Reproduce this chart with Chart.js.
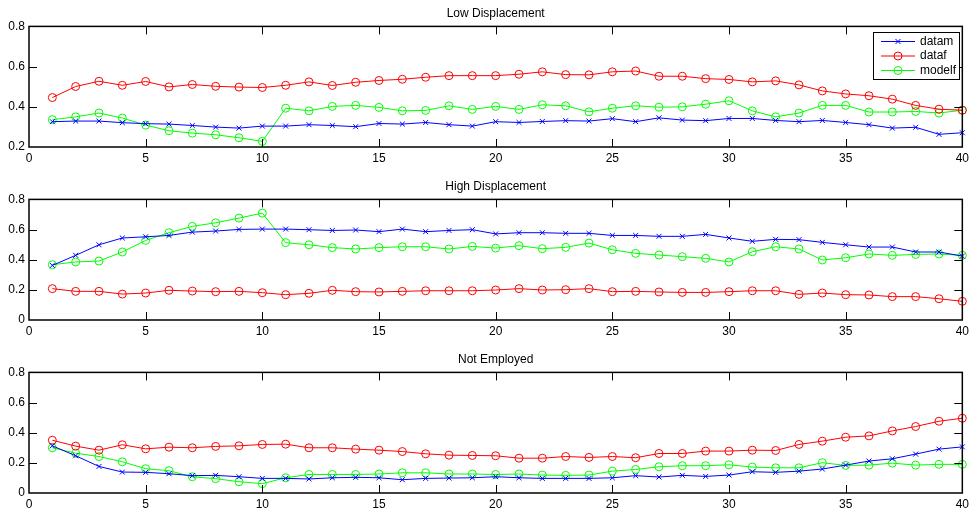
<!DOCTYPE html>
<html>
<head>
<meta charset="utf-8">
<title>Displacement</title>
<script src="https://cdn.jsdelivr.net/npm/chart.js@4.4.1/dist/chart.umd.min.js"></script>
<style>
    body { margin: 0; background: #fff; }
    .panel { position: absolute; left: 0; }
</style>
</head>
<body>
<canvas id="grafLow" class="panel" width="973" height="173" style="top:0px"></canvas>
<canvas id="grafHigh" class="panel" width="973" height="173" style="top:173px"></canvas>
<canvas id="grafNot" class="panel" width="973" height="169" style="top:346px"></canvas>
<script>
// Eje X: periodos 1..40
const periodos = [1, 2, 3, 4, 5, 6, 7, 8, 9, 10, 11, 12, 13, 14, 15, 16, 17, 18, 19, 20,
    21, 22, 23, 24, 25, 26, 27, 28, 29, 30, 31, 32, 33, 34, 35, 36, 37, 38, 39, 40];
const ticksX = [0, 5, 10, 15, 20, 25, 30, 35, 40];
const ticksYLow = [0.2, 0.4, 0.6, 0.8];
const ticksY = [0, 0.2, 0.4, 0.6, 0.8];

const nombres = ['datam', 'dataf', 'modelf'];
const titulos = ['Low Displacement', 'High Displacement', 'Not Employed'];

// Low Displacement
const lowDatam = [0.326, 0.329, 0.329, 0.321, 0.316, 0.314, 0.307, 0.299, 0.294, 0.304, 0.304, 0.311, 0.307, 0.301, 0.317, 0.314, 0.322, 0.311, 0.304, 0.326,
    0.322, 0.327, 0.331, 0.329, 0.341, 0.326, 0.345, 0.334, 0.331, 0.342, 0.342, 0.332, 0.326, 0.332, 0.322, 0.311, 0.294, 0.298, 0.263, 0.271];
const lowDataf = [0.446, 0.501, 0.527, 0.507, 0.526, 0.499, 0.511, 0.502, 0.498, 0.496, 0.507, 0.524, 0.506, 0.522, 0.531, 0.537, 0.547, 0.555, 0.555, 0.555,
    0.562, 0.574, 0.560, 0.559, 0.574, 0.578, 0.552, 0.552, 0.540, 0.536, 0.524, 0.529, 0.509, 0.479, 0.464, 0.455, 0.438, 0.407, 0.388, 0.383];
const lowModelf = [0.336, 0.350, 0.369, 0.344, 0.309, 0.281, 0.269, 0.261, 0.246, 0.228, 0.393, 0.380, 0.402, 0.407, 0.397, 0.380, 0.382, 0.405, 0.387, 0.402,
    0.387, 0.410, 0.405, 0.375, 0.393, 0.405, 0.398, 0.400, 0.413, 0.430, 0.380, 0.350, 0.369, 0.407, 0.407, 0.374, 0.374, 0.377, 0.369, 0.383];

// High Displacement
const highDatam = [0.362, 0.429, 0.499, 0.544, 0.552, 0.561, 0.583, 0.590, 0.601, 0.603, 0.603, 0.599, 0.594, 0.597, 0.586, 0.603, 0.586, 0.594, 0.599, 0.571,
    0.579, 0.579, 0.575, 0.575, 0.561, 0.561, 0.555, 0.555, 0.568, 0.544, 0.522, 0.535, 0.533, 0.515, 0.499, 0.484, 0.484, 0.451, 0.451, 0.424];
const highDataf = [0.208, 0.190, 0.190, 0.172, 0.179, 0.197, 0.192, 0.188, 0.190, 0.181, 0.168, 0.177, 0.197, 0.188, 0.186, 0.190, 0.194, 0.194, 0.194, 0.199,
    0.208, 0.199, 0.201, 0.208, 0.188, 0.190, 0.186, 0.183, 0.183, 0.188, 0.194, 0.194, 0.170, 0.179, 0.168, 0.166, 0.155, 0.155, 0.141, 0.124];
const highModelf = [0.367, 0.385, 0.391, 0.451, 0.528, 0.579, 0.621, 0.645, 0.676, 0.709, 0.513, 0.499, 0.480, 0.471, 0.480, 0.486, 0.486, 0.471, 0.488, 0.477,
    0.493, 0.473, 0.482, 0.510, 0.466, 0.442, 0.431, 0.420, 0.409, 0.385, 0.453, 0.486, 0.471, 0.398, 0.413, 0.438, 0.429, 0.435, 0.438, 0.429];

// Not Employed
const notDatam = [0.313, 0.247, 0.176, 0.139, 0.137, 0.128, 0.115, 0.117, 0.108, 0.097, 0.097, 0.093, 0.101, 0.104, 0.101, 0.088, 0.097, 0.099, 0.101, 0.108,
    0.101, 0.097, 0.097, 0.097, 0.101, 0.115, 0.106, 0.117, 0.110, 0.119, 0.141, 0.137, 0.145, 0.159, 0.185, 0.212, 0.227, 0.258, 0.291, 0.306];
const notDataf = [0.350, 0.311, 0.284, 0.320, 0.293, 0.304, 0.300, 0.309, 0.313, 0.322, 0.324, 0.300, 0.300, 0.291, 0.284, 0.275, 0.260, 0.251, 0.249, 0.247,
    0.231, 0.231, 0.242, 0.236, 0.242, 0.234, 0.262, 0.262, 0.278, 0.278, 0.284, 0.282, 0.322, 0.344, 0.370, 0.379, 0.412, 0.441, 0.476, 0.496];
const notModelf = [0.300, 0.264, 0.242, 0.207, 0.161, 0.148, 0.108, 0.095, 0.075, 0.062, 0.101, 0.123, 0.123, 0.123, 0.126, 0.134, 0.134, 0.126, 0.126, 0.123,
    0.126, 0.119, 0.117, 0.119, 0.145, 0.156, 0.174, 0.181, 0.181, 0.187, 0.172, 0.167, 0.167, 0.201, 0.183, 0.185, 0.198, 0.185, 0.190, 0.190];

const fuente = { family: "'Liberation Sans', Arial, sans-serif", size: 12 };
const colores = ['#0000ff', '#ff0000', '#00ff00'];
const marcas = ['crossRot', 'circle', 'circle'];

// convertir una serie en puntos {x, y}
const aPuntos = (serie) => serie.map((v, i) => ({ x: periodos[i], y: v }));

// dibujar un marcador (cruz o circulo) en el contexto
const dibujarMarca = (ctx, estilo, x, y) => {
    ctx.beginPath();
    if (estilo === 'circle') {
        ctx.arc(x, y, 4, 0, Math.PI * 2);
    } else {
        ctx.moveTo(x - 2.5, y - 2.5); ctx.lineTo(x + 2.5, y + 2.5);
        ctx.moveTo(x - 2.5, y + 2.5); ctx.lineTo(x + 2.5, y - 2.5);
    }
    ctx.stroke();
};

// Caja con ticks hacia adentro en los cuatro lados (+ leyenda opcional)
const cajaEjes = {
    id: 'cajaEjes',
    afterDatasetsDraw(chart, args, opts) {
        const { ctx, chartArea: a, scales: { x, y } } = chart;
        const largo = 8;
        ctx.save();
        ctx.strokeStyle = '#000';
        ctx.lineWidth = 1;
        ctx.beginPath();
        x.ticks.forEach((t) => {
            const px = Math.round(x.getPixelForValue(t.value)) + 0.5;
            if (px <= a.left + 1 || px >= a.right - 1) return;
            ctx.moveTo(px, a.bottom); ctx.lineTo(px, a.bottom - largo);
            ctx.moveTo(px, a.top); ctx.lineTo(px, a.top + largo);
        });
        y.ticks.forEach((t) => {
            const py = Math.round(y.getPixelForValue(t.value)) + 0.5;
            if (py <= a.top + 1 || py >= a.bottom - 1) return;
            ctx.moveTo(a.left, py); ctx.lineTo(a.left + largo, py);
            ctx.moveTo(a.right, py); ctx.lineTo(a.right - largo, py);
        });
        ctx.stroke();
        ctx.lineWidth = 1.5;
        ctx.strokeRect(a.left, a.top, a.right - a.left, a.bottom - a.top);

        if (opts.leyenda) {
            const caja = { x: 873, y: 32, w: 86, h: 47 };
            ctx.fillStyle = '#fff';
            ctx.fillRect(caja.x, caja.y, caja.w, caja.h);
            ctx.lineWidth = 1;
            ctx.strokeRect(caja.x + 0.5, caja.y + 0.5, caja.w, caja.h);
            ctx.font = `${fuente.size}px ${fuente.family}`;
            ctx.textBaseline = 'middle';
            chart.data.datasets.forEach((ds, i) => {
                const fy = caja.y + 9.5 + i * 14.5;
                ctx.strokeStyle = ds.borderColor;
                ctx.beginPath();
                ctx.moveTo(881, fy); ctx.lineTo(915, fy);
                ctx.stroke();
                dibujarMarca(ctx, ds.pointStyle, 898, fy);
                ctx.fillStyle = '#000';
                ctx.fillText(ds.label, 920, fy);
            });
        }
        ctx.restore();
    }
};

// crear un grafico de un panel
const crearPanel = (id, titulo, series, ticksYPanel, leyenda) => {
    const canvas = document.getElementById(id);
    const alto = canvas.height;
    const datasets = series.map((serie, i) => ({
        label: nombres[i],
        data: aPuntos(serie),
        borderColor: colores[i],
        borderWidth: 1,
        pointStyle: marcas[i],
        pointRadius: marcas[i] === 'circle' ? 4 : 3.5,
        pointBorderWidth: 1,
        pointBackgroundColor: 'rgba(0,0,0,0)',
        tension: 0,
        clip: false,
    }));

    return new Chart(canvas, {
        type: 'line',
        data: { datasets },
        options: {
            responsive: false,
            animation: false,
            events: [],
            layout: { padding: { left: 0, right: 9, top: 0, bottom: 0 } },
            plugins: {
                legend: { display: false },
                tooltip: { enabled: false },
                title: {
                    display: true,
                    text: titulo,
                    fullSize: false,
                    color: '#000',
                    font: { ...fuente, weight: 'normal' },
                    padding: { top: 6, bottom: 6 },
                },
                cajaEjes: { leyenda },
            },
            scales: {
                x: {
                    type: 'linear',
                    min: 0,
                    max: 40,
                    afterBuildTicks: (s) => { s.ticks = ticksX.map((v) => ({ value: v })); },
                    afterFit: (s) => { s.height = alto - 147; },
                    grid: { display: false, drawTicks: false },
                    border: { display: false },
                    ticks: { color: '#000', font: fuente, padding: 4, maxRotation: 0, autoSkip: false },
                },
                y: {
                    type: 'linear',
                    min: ticksYPanel[0],
                    max: ticksYPanel[ticksYPanel.length - 1],
                    afterBuildTicks: (s) => { s.ticks = ticksYPanel.map((v) => ({ value: v })); },
                    afterFit: (s) => { s.width = 29; },
                    grid: { display: false, drawTicks: false },
                    border: { display: false },
                    ticks: { color: '#000', font: fuente, padding: 4 },
                },
            },
        },
        plugins: [cajaEjes],
    });
};

crearPanel('grafLow', titulos[0], [lowDatam, lowDataf, lowModelf], ticksYLow, true);
crearPanel('grafHigh', titulos[1], [highDatam, highDataf, highModelf], ticksY, false);
crearPanel('grafNot', titulos[2], [notDatam, notDataf, notModelf], ticksY, false);
</script>
</body>
</html>
